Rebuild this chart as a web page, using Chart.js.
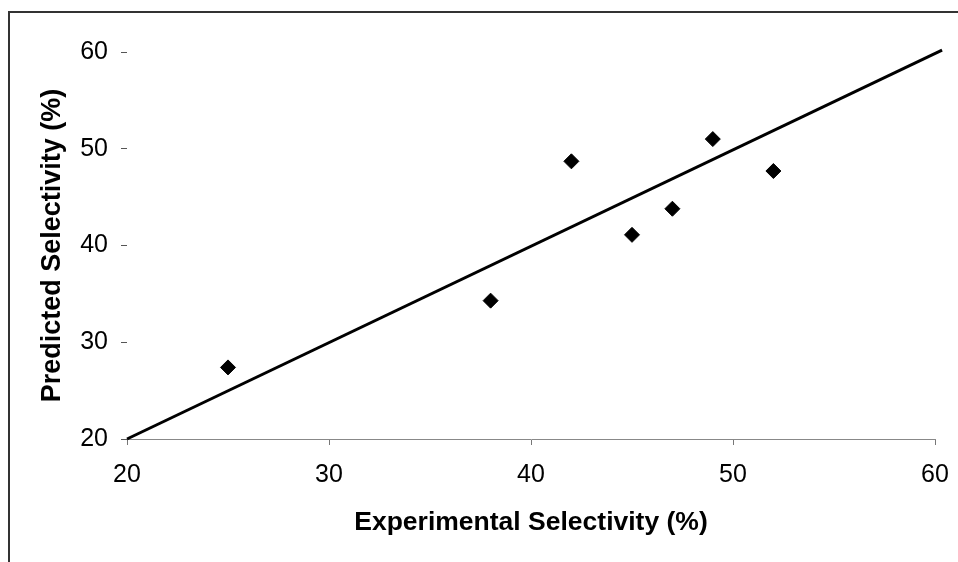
<!DOCTYPE html>
<html>
<head>
<meta charset="utf-8">
<script src="https://cdn.jsdelivr.net/npm/chart.js@4/dist/chart.umd.min.js"></script>
<style>
  body { margin: 0; background: #fff; }
  #frame {
    position: absolute; left: 8px; top: 11px; width: 950px; height: 551px;
    border-left: 2px solid #333; border-top: 2px solid #333;
  }
  #chart { position: absolute; left: 0; top: 0; }
</style>
</head>
<body>
<div id="frame"></div>
<canvas id="chart" width="958" height="562"></canvas>
<script>
// experimental vs predicted selectivity (%)
const experimental = [25, 38, 42, 45, 47, 49, 52];
const predicted = [27.4, 34.3, 48.7, 41.1, 43.8, 51.0, 47.7];

// trend line end points
const lineX = [20, 60.35];
const lineY = [20, 60.2];

const xTitle = 'Experimental Selectivity (%)';
const yTitle = 'Predicted Selectivity (%)';

const font = 'Liberation Sans, Arial, Helvetica, sans-serif';

new Chart(document.getElementById('chart'), {
    type: 'scatter',
    data: {
        datasets: [{
            data: experimental.map((x, i) => ({ x: x, y: predicted[i] })),
            pointStyle: 'rectRot',
            pointRadius: 7.5,
            pointBorderWidth: 1,
            backgroundColor: '#000',
            borderColor: '#000'
        }, {
            data: lineX.map((x, i) => ({ x: x, y: lineY[i] })),
            showLine: true,
            pointRadius: 0,
            borderColor: '#000',
            borderWidth: 3,
            clip: false
        }]
    },
    options: {
        responsive: false,
        animation: false,
        devicePixelRatio: 1,
        layout: { padding: { left: 0, top: 52, right: 23, bottom: 0 } },
        plugins: { legend: { display: false }, tooltip: { enabled: false } },
        scales: {
            x: {
                min: 20, max: 60,
                afterFit: s => { s.height = 123; s.paddingLeft = 0; s.paddingRight = 0; },
                border: { display: true, color: '#888', width: 1 },
                grid: { drawOnChartArea: false, drawTicks: true, tickLength: 6, color: '#777' },
                ticks: { stepSize: 10, padding: 15, color: '#000', font: { family: font, size: 25 } },
                title: {
                    display: true, text: xTitle, color: '#000',
                    padding: { top: 0, bottom: 23 },
                    font: { family: font, size: 26.5, weight: 'bold' }
                }
            },
            y: {
                min: 20, max: 60,
                afterFit: s => { s.width = 127; s.paddingTop = 0; s.paddingBottom = 0; },
                border: { display: false },
                grid: { drawOnChartArea: false, drawTicks: true, tickLength: 6, color: '#555' },
                ticks: { stepSize: 10, padding: 13, color: '#000', font: { family: font, size: 25 } },
                title: {
                    display: true, text: yTitle, color: '#000',
                    padding: { top: 36, bottom: 0 },
                    font: { family: font, size: 27, weight: 'bold' }
                }
            }
        }
    }
});
</script>
</body>
</html>
